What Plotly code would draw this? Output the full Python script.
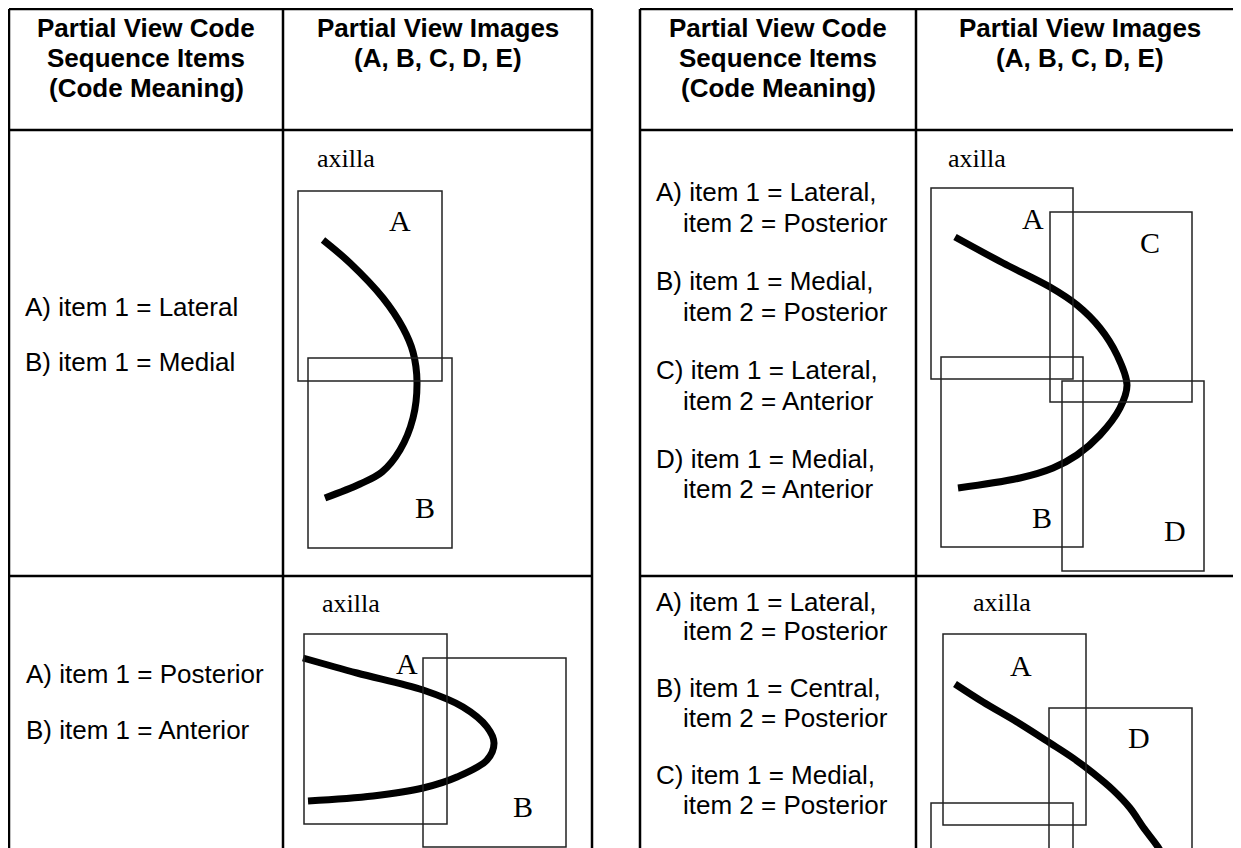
import plotly.graph_objects as go

W, H = 1241, 848
PAGE_MARGIN = 8  # browser body margin, so ranges are shifted to keep page pixels

# table frames: two tables side by side
table_x0 = [9, 640]
table_xm = [283, 916]
table_x1 = [592, 1243]
table_rows = [9, 130, 576]

# header text
head_code = ["Partial View Code", "Sequence Items", "(Code Meaning)"]
head_imgs = ["Partial View Images", "(A, B, C, D, E)"]
head_y = [28, 58, 88]

# code meaning text per cell: (text, x, y)
cell_ul = [("A) item 1 = Lateral", 23, 307), ("B) item 1 = Medial", 23, 362)]
cell_ll = [("A) item 1 = Posterior", 24, 674), ("B) item 1 = Anterior", 24, 730)]
cell_ur = [("A) item 1 = Lateral,", 654, 192), ("item 2 = Posterior", 681, 223),
           ("B) item 1 = Medial,", 654, 281), ("item 2 = Posterior", 681, 312),
           ("C) item 1 = Lateral,", 654, 370), ("item 2 = Anterior", 681, 401),
           ("D) item 1 = Medial,", 654, 459), ("item 2 = Anterior", 681, 489)]
cell_lr = [("A) item 1 = Lateral,", 654, 602), ("item 2 = Posterior", 681, 631),
           ("B) item 1 = Central,", 654, 688), ("item 2 = Posterior", 681, 718),
           ("C) item 1 = Medial,", 654, 775), ("item 2 = Posterior", 681, 805)]

# "axilla" marks
axilla_x = [346, 351, 977, 1002]
axilla_y = [158, 603, 158, 602]

# partial view boxes: x0, y0, x1, y1
boxes = [
    (298, 191, 442, 381), (308, 358, 452, 548),
    (304, 634, 447, 824), (423, 658, 566, 847),
    (931, 188, 1073, 379), (1050, 212, 1192, 402),
    (941, 357, 1083, 547), (1062, 381, 1204, 571),
    (943, 634, 1086, 825), (1049, 708, 1192, 880), (931, 803, 1073, 880),
]
# box letters
letters = ["A", "B", "A", "B", "A", "C", "B", "D", "A", "D"]
letter_x = [400, 425, 407, 523, 1033, 1150, 1042, 1175, 1021, 1139]
letter_y = [220, 507, 663, 806, 218, 242, 517, 530, 665, 737]

# breast outline curves
curve_ul_x = [323, 350, 383, 403, 413, 417, 413, 400, 382, 360, 325]
curve_ul_y = [240, 263, 298, 328, 352, 382, 418, 450, 472, 484, 498]
curve_ll_x = [303, 357, 423, 463, 487, 494, 487, 457, 423, 373, 308]
curve_ll_y = [658, 673, 690, 707, 727, 743, 760, 777, 788, 796, 801]
curve_ur_x = [955, 1003, 1050, 1077, 1100, 1117, 1127, 1120, 1100, 1077, 1053, 1020, 958]
curve_ur_y = [237, 263, 287, 305, 328, 355, 385, 408, 435, 455, 468, 478, 488]
curve_lr_x = [955, 983, 1017, 1050, 1073, 1093, 1113, 1130, 1143, 1158, 1163]
curve_lr_y = [684, 702, 722, 743, 758, 773, 790, 808, 827, 847, 856]

fig = go.Figure()

for cx, cy in [(curve_ul_x, curve_ul_y), (curve_ll_x, curve_ll_y),
               (curve_ur_x, curve_ur_y), (curve_lr_x, curve_lr_y)]:
    fig.add_trace(go.Scatter(x=cx, y=cy, mode="lines",
                             line=dict(color="black", width=7, shape="spline", smoothing=1.0),
                             hoverinfo="skip", showlegend=False))

# table lines
for x0, xm, x1 in zip(table_x0, table_xm, table_x1):
    for xx in (x0, xm, x1):
        fig.add_shape(type="line", x0=xx, x1=xx, y0=table_rows[0], y1=H + 20,
                      line=dict(color="black", width=2.5))
    for yy in table_rows:
        fig.add_shape(type="line", x0=x0, x1=x1, y0=yy, y1=yy,
                      line=dict(color="black", width=2.5))

for x0, y0, x1, y1 in boxes:
    fig.add_shape(type="rect", x0=x0, y0=y0, x1=x1, y1=y1,
                  line=dict(color="#222222", width=1.5))

sans = "Liberation Sans, Arial, sans-serif"
serif = "Liberation Serif, Times New Roman, serif"

for i in range(2):
    cx1 = (table_x0[i] + table_xm[i]) / 2
    cx2 = (table_xm[i] + table_x1[i]) / 2
    for t, yy in zip(head_code, head_y):
        fig.add_annotation(x=cx1, y=yy, text="<b>%s</b>" % t, showarrow=False,
                           font=dict(family=sans, size=26, color="black"), xanchor="center", yanchor="middle")
    for t, yy in zip(head_imgs, head_y):
        fig.add_annotation(x=cx2, y=yy, text="<b>%s</b>" % t, showarrow=False,
                           font=dict(family=sans, size=26, color="black"), xanchor="center", yanchor="middle")

for cell in (cell_ul, cell_ll, cell_ur, cell_lr):
    for t, xx, yy in cell:
        fig.add_annotation(x=xx, y=yy, text=t, showarrow=False,
                           font=dict(family=sans, size=26, color="black"), xanchor="left", yanchor="middle")

for xx, yy in zip(axilla_x, axilla_y):
    fig.add_annotation(x=xx, y=yy, text="axilla", showarrow=False,
                       font=dict(family=serif, size=26, color="black"), xanchor="center", yanchor="middle")

for t, xx, yy in zip(letters, letter_x, letter_y):
    fig.add_annotation(x=xx, y=yy, text=t, showarrow=False,
                       font=dict(family=serif, size=30, color="black"), xanchor="center", yanchor="middle")

fig.update_layout(width=W, height=H, margin=dict(l=0, r=0, t=0, b=0),
                  paper_bgcolor="white", plot_bgcolor="white")
fig.update_xaxes(range=[PAGE_MARGIN, W + PAGE_MARGIN], visible=False, fixedrange=True)
fig.update_yaxes(range=[H + PAGE_MARGIN, PAGE_MARGIN], visible=False, fixedrange=True)

fig.write_html("out.html")
